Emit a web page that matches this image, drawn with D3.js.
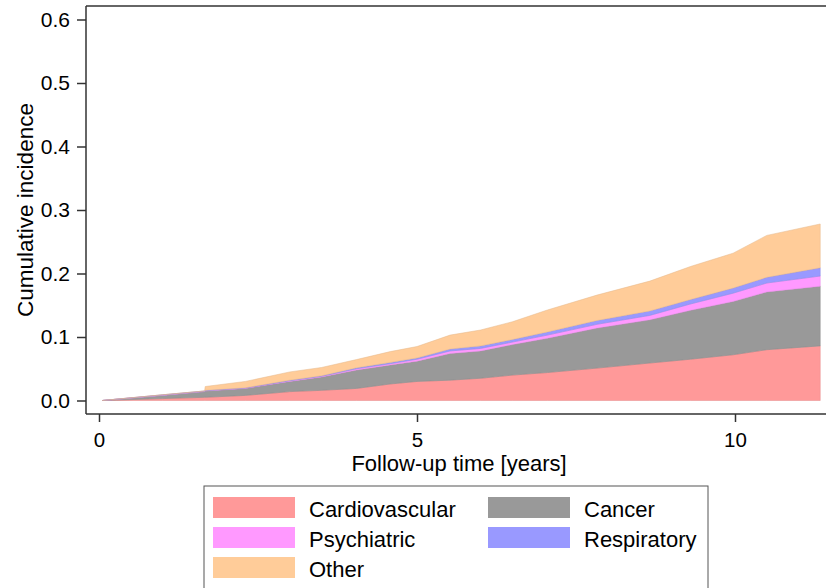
<!DOCTYPE html>
<html><head><meta charset="utf-8">
<script src="https://cdnjs.cloudflare.com/ajax/libs/d3/7.8.5/d3.min.js"></script>
<style>body{margin:0;background:#fff}svg{display:block;font-family:"Liberation Sans",Arial,sans-serif}</style>
</head><body><svg id="c" width="826" height="588"></svg>
<script>
const time = [0.05,1.0,1.66,1.67,2.3,3.0,3.5,4.05,4.58,5.0,5.52,6.0,6.5,7.05,7.83,8.66,9.3,9.97,10.5,11.34];
const cardiovascular = [0,0.003,0.005,0.005,0.008,0.014,0.016,0.019,0.026,0.030,0.032,0.035,0.040,0.044,0.051,0.059,0.065,0.072,0.080,0.086];
const cancer = [0,0.005,0.009,0.010,0.011,0.016,0.021,0.029,0.030,0.032,0.042,0.043,0.048,0.054,0.063,0.068,0.077,0.084,0.091,0.094];
const psychiatric = [0,0.0005,0.0005,0.0005,0.0005,0.001,0.001,0.002,0.002,0.003,0.004,0.004,0.004,0.005,0.006,0.007,0.010,0.013,0.014,0.016];
const respiratory = [0,0.0005,0.0005,0.0005,0.0005,0.001,0.001,0.0015,0.002,0.002,0.003,0.004,0.004,0.005,0.006,0.007,0.007,0.008,0.009,0.013];
const other = [0,0,0,0.006,0.010,0.013,0.013,0.013,0.017,0.018,0.022,0.025,0.028,0.0345,0.040,0.047,0.052,0.055,0.066,0.069];
const seriesNames = ["Cardiovascular","Cancer","Psychiatric","Respiratory","Other"];
const seriesColors = ["#ff9999","#999999","#ff99ff","#9999ff","#ffcc99"];
const yTicks = [0,0.1,0.2,0.3,0.4,0.5,0.6];
const xTicks = [0,5,10];

const svg = d3.select("#c");
const x = d3.scaleLinear().domain([0,10]).range([99,735]);
const y = d3.scaleLinear().domain([0,0.6]).range([400.5,19.5]);

const rows = time.map((t,i)=>({t, Cardiovascular:cardiovascular[i], Cancer:cancer[i], Psychiatric:psychiatric[i], Respiratory:respiratory[i], Other:other[i]}));
const stacked = d3.stack().keys(seriesNames)(rows);
const area = d3.area().x(d=>x(d.data.t)).y0(d=>y(d[0])).y1(d=>y(d[1]));
svg.append("g").selectAll("path").data(stacked).join("path")
  .attr("d",area).attr("fill",(d,i)=>seriesColors[i])
  .attr("stroke",(d,i)=>d3.color(seriesColors[i]).darker(0.3)).attr("stroke-width",0.5);

// frame
const frame = svg.append("g").attr("stroke","#333").attr("stroke-width",1.5).attr("fill","none");
frame.append("line").attr("x1",86).attr("x2",86).attr("y1",6).attr("y2",414);
frame.append("line").attr("x1",86).attr("x2",826).attr("y1",6).attr("y2",6);

const yAxis = svg.append("g").attr("transform","translate(86,0)")
  .call(d3.axisLeft(y).tickValues(yTicks).tickFormat(d3.format(".1f")).tickSize(9).tickPadding(7));
const xAxis = svg.append("g").attr("transform","translate(0,414)")
  .call(d3.axisBottom(x).tickValues(xTicks).tickSize(8).tickPadding(10));
[yAxis,xAxis].forEach(a=>{
  a.select(".domain").remove();
  a.selectAll("line").attr("stroke","#333").attr("stroke-width",1.5);
  a.selectAll("text").attr("font-size",21).attr("fill","#000").attr("font-family","Liberation Sans, Arial, sans-serif");
});
xAxis.selectAll("text").attr("font-size",20.5);
svg.append("line").attr("x1",86).attr("x2",826).attr("y1",414).attr("y2",414).attr("stroke","#333").attr("stroke-width",1.5);

svg.append("text").attr("x",459).attr("y",471).attr("text-anchor","middle").attr("font-size",22).text("Follow-up time [years]");
svg.append("text").attr("transform","translate(33,210) rotate(-90)").attr("text-anchor","middle").attr("font-size",22.5).text("Cumulative incidence");

// legend
const lg = svg.append("g");
lg.append("rect").attr("x",204).attr("y",486).attr("width",504).attr("height",110).attr("fill","#fff").attr("stroke","#555").attr("stroke-width",1);
const legendOrder = [0,1,2,3,4];
legendOrder.forEach((k,i)=>{
  const col = i%2, row = Math.floor(i/2);
  const sx = col===0?213:488, sy = 497+row*30;
  lg.append("rect").attr("x",sx).attr("y",sy).attr("width",82).attr("height",21).attr("fill",seriesColors[k]);
  lg.append("text").attr("x",sx+96).attr("y",sy+20).attr("font-size",22).text(seriesNames[k]);
});
</script></body></html>
